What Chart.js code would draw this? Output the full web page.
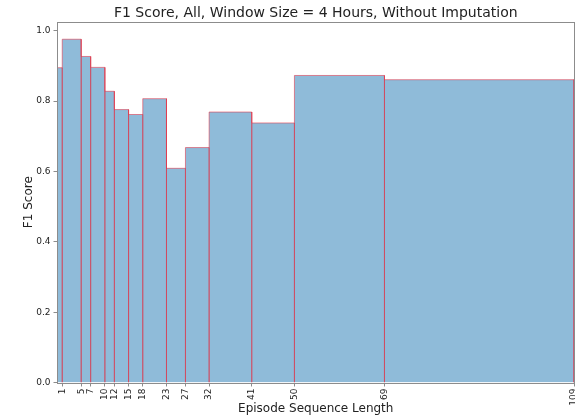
<!DOCTYPE html>
<html>
<head>
<meta charset="utf-8">
<script src="https://cdn.jsdelivr.net/npm/chart.js@4.4.0/dist/chart.umd.min.js"></script>
<style>
  html, body { margin: 0; padding: 0; background: #fff; }
  #wrap { width: 575px; height: 418px; }
</style>
</head>
<body>
<div id="wrap"><canvas id="f1Chart"></canvas></div>
<script>
// bin edges of the episode length buckets and the F1 score of each bucket
const binEdges = [0, 1, 5, 7, 10, 12, 15, 18, 23, 27, 32, 41, 50, 69, 109];
const f1Scores = [0.895, 0.976, 0.927, 0.896, 0.828, 0.776, 0.762, 0.807, 0.609, 0.668, 0.769, 0.738, 0.873, 0.861];
const xTickValues = [1, 5, 7, 10, 12, 15, 18, 23, 27, 32, 41, 50, 69, 109];
const yTickValues = [0, 0.2, 0.4, 0.6, 0.8, 1.0];

// each bucket becomes a closed rectangle outline: up, across, down
const histPoints = [];
f1Scores.forEach((v, i) => {
    const x0 = binEdges[i], x1 = binEdges[i + 1];
    histPoints.push({x: x0, y: 0}, {x: x0, y: v}, {x: x1, y: v}, {x: x1, y: 0});
});

const FONT = 'DejaVu Sans';
const spineColor = '#8c8c8c';

// matplotlib-like box around the plot area
const frame = {
    id: 'frame',
    afterDraw(chart) {
        const {ctx, chartArea: a} = chart;
        ctx.save();
        ctx.strokeStyle = spineColor;
        ctx.lineWidth = 1;
        ctx.strokeRect(Math.round(a.left) - 0.5, Math.round(a.top) + 0.5,
                       Math.round(a.right - a.left), Math.round(a.bottom - a.top));
        ctx.restore();
    }
};

new Chart(document.getElementById('f1Chart'), {
    type: 'scatter',
    data: {
        datasets: [{
            data: histPoints,
            showLine: true,
            fill: 'origin',
            backgroundColor: 'rgba(31, 119, 180, 0.5)',
            borderColor: 'rgba(225, 45, 65, 0.55)',
            borderWidth: 1,
            pointRadius: 0,
            tension: 0
        }]
    },
    plugins: [frame],
    options: {
        responsive: true,
        maintainAspectRatio: false,
        animation: false,
        layout: { padding: { left: 0, right: 1, top: 0, bottom: 0 } },
        plugins: {
            legend: { display: false },
            tooltip: { enabled: false },
            title: {
                display: true,
                fullSize: false,
                text: 'F1 Score, All, Window Size = 4 Hours, Without Imputation',
                color: '#222',
                font: { family: FONT, size: 14, weight: 'normal' },
                padding: { top: 5, bottom: 0 }
            }
        },
        scales: {
            x: {
                type: 'linear',
                min: 0,
                max: 109,
                afterBuildTicks: axis => { axis.ticks = xTickValues.map(v => ({value: v})); },
                afterFit: axis => {
                    axis.height = 35.5;
                    axis.paddingLeft = 0;
                    axis.paddingRight = 0;
                },
                ticks: {
                    autoSkip: false,
                    minRotation: 90,
                    maxRotation: 90,
                    padding: 2,
                    color: '#222',
                    font: { family: FONT, size: 9 }
                },
                grid: { drawOnChartArea: false, drawTicks: true, tickLength: 4, color: spineColor },
                border: { display: false },
                title: {
                    display: true,
                    text: 'Episode Sequence Length',
                    color: '#222',
                    font: { family: FONT, size: 12 },
                    padding: { top: 0, bottom: 2 }
                }
            },
            y: {
                min: 0,
                max: 1.0256,
                afterBuildTicks: axis => { axis.ticks = yTickValues.map(v => ({value: v})); },
                afterFit: axis => {
                    axis.width = 57.5;
                    axis.paddingTop = 0;
                    axis.paddingBottom = 0;
                },
                ticks: {
                    padding: 3,
                    color: '#222',
                    font: { family: FONT, size: 9 },
                    callback: v => v.toFixed(1)
                },
                grid: { drawOnChartArea: false, drawTicks: true, tickLength: 4, color: spineColor },
                border: { display: false },
                title: {
                    display: true,
                    text: 'F1 Score',
                    color: '#222',
                    font: { family: FONT, size: 12 },
                    padding: { top: 22, bottom: 0 }
                }
            }
        }
    }
});
</script>
</body>
</html>
